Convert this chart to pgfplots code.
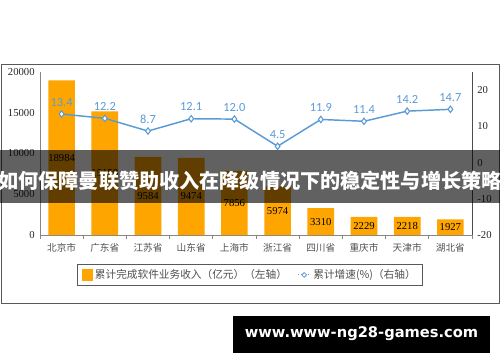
\documentclass[border=0pt]{standalone}
\usepackage{fontspec}
\setmainfont{Liberation Serif}
\newfontfamily\cjk{Noto Sans CJK SC}
\newfontfamily\carlito{Carlito}
\newfontfamily\urlfont{DejaVu Sans}
\usepackage{pgfplots}
\pgfplotsset{compat=1.18}
\usepackage{pgfplotstable}

\definecolor{barorange}{RGB}{255,165,0}
\definecolor{lineblue}{RGB}{91,155,213}
\definecolor{axgray}{RGB}{134,134,134}
\definecolor{framegray}{RGB}{89,89,89}
\definecolor{labgray}{RGB}{80,80,80}

\pgfplotstableread{
x v lab
0 18984 18984
1 15158 15158
2 9584 9584
3 9474 9474
4 7856 7856
5 5974 5974
6 3310 3310
7 2229 2229
8 2218 2218
9 1927 1927
}\bardata

\pgfplotstableread{
x g lab
0 13.4 13.4
1 12.2 12.2
2 8.7 8.7
3 12.1 12.1
4 12.0 12.0
5 4.5 4.5
6 11.9 11.9
7 11.4 11.4
8 14.2 14.2
9 14.7 14.7
}\linedata

\begin{document}
\begin{tikzpicture}[x=0.75pt,y=0.75pt]
\path[use as bounding box] (0,0) rectangle (500,362);
\draw[framegray, line width=0.75pt] (1,298) rectangle (499,59);

\begin{axis}[
  at={(30pt,95.25pt)}, anchor=south west,
  scale only axis, width=324pt, height=122.25pt,
  xmin=-0.5, xmax=9.5, ymin=0, ymax=20000,
  axis x line*=bottom, axis y line*=left,
  tick pos=left,
  axis line style={axgray, line width=0.6pt},
  xtick={0,...,9},
  xticklabels={北京市,广东省,江苏省,山东省,上海市,浙江省,四川省,重庆市,天津市,湖北省},
  xticklabel style={font=\cjk\fontsize{7.25}{8}\selectfont, text=labgray, yshift=-3pt},
  minor xtick={-0.5,0.5,...,9.5},
  major tick length=0pt, minor tick length=3pt, tick align=outside,
  minor tick style={axgray, line width=0.6pt},
  ytick={0,5000,10000,15000,20000},
  scaled y ticks=false,
  /pgf/number format/.cd, 1000 sep={}, assume math mode=true, /pgfplots/.cd,
  yticklabel style={font=\fontsize{8}{9}\selectfont, text=black!85, xshift=-0.5pt},
  legend columns=2,
  legend cell align=left,
  legend style={at={(0.486,-0.245)}, anchor=center, draw=framegray, line width=0.6pt,
    font=\cjk\fontsize{8}{9}\selectfont, text=labgray,
    /tikz/every even column/.append style={column sep=6pt},
    inner xsep=3pt, inner ysep=2pt},
]
\addplot[ybar, bar width=20pt, fill=barorange, draw=none, forget plot] table[x=x,y=v]{\bardata};
\addplot[draw=none, mark=none, forget plot, nodes near coords, point meta=explicit symbolic,
  nodes near coords style={anchor=center, font=\fontsize{8}{9}\selectfont, text=black}]
  table[x=x, y expr=\thisrow{v}/2, meta=lab]{\bardata};
\addlegendimage{legend image code/.code={\fill[barorange] (0pt,-3.9pt) rectangle (7.5pt,3.9pt);}}
\addlegendentry{累计完成软件业务收入（亿元）（左轴）}
\addlegendimage{legend image code/.code={
  \draw[lineblue, densely dotted, line width=0.8pt] (0pt,0pt) -- (9pt,0pt);
  \draw[lineblue, fill=white, line width=0.6pt] (4.5pt,1.8pt) -- (6.3pt,0pt) -- (4.5pt,-1.8pt) -- (2.7pt,0pt) -- cycle;}}
\addlegendentry{累计增速(\%)（右轴）}
\end{axis}

\begin{axis}[
  at={(30pt,95.25pt)}, anchor=south west,
  scale only axis, width=324pt, height=122.25pt,
  xmin=-0.5, xmax=9.5, ymin=-20, ymax=25,
  axis x line=none, axis y line*=right,
  ytick pos=right,
  axis line style={black!70, line width=0.6pt},
  ytick={-20,-10,0,10,20},
  major tick length=0pt,
  /pgf/number format/.cd, assume math mode=true, /pgfplots/.cd,
  yticklabel style={font=\fontsize{8}{9}\selectfont, text=black!85, xshift=0.5pt},
]
\addplot[lineblue, line width=1.1pt, mark=diamond*, mark size=2.4pt,
  mark options={fill=white, draw=lineblue, line width=0.8pt, solid},
  nodes near coords, point meta=explicit symbolic,
  nodes near coords style={font=\carlito\fontsize{9.3}{10}\selectfont, text=lineblue, anchor=south, yshift=2pt}]
  table[x=x,y=g,meta=lab]{\linedata};
\end{axis}

\fill[black, fill opacity=0.62] (0,212) rectangle (500,159);
\node[text=white, font=\cjk\bfseries\fontsize{15.1}{16}\selectfont, inner sep=0pt] at (250,181) {如何保障曼联赞助收入在降级情况下的稳定性与增长策略};

\fill[black] (233,46) rectangle (490,9);
\node[text=white, font=\urlfont\bfseries\fontsize{11}{12}\selectfont, inner sep=0pt] at (361.5,28) {www.www-ng28-games.com};
\end{tikzpicture}
\end{document}
